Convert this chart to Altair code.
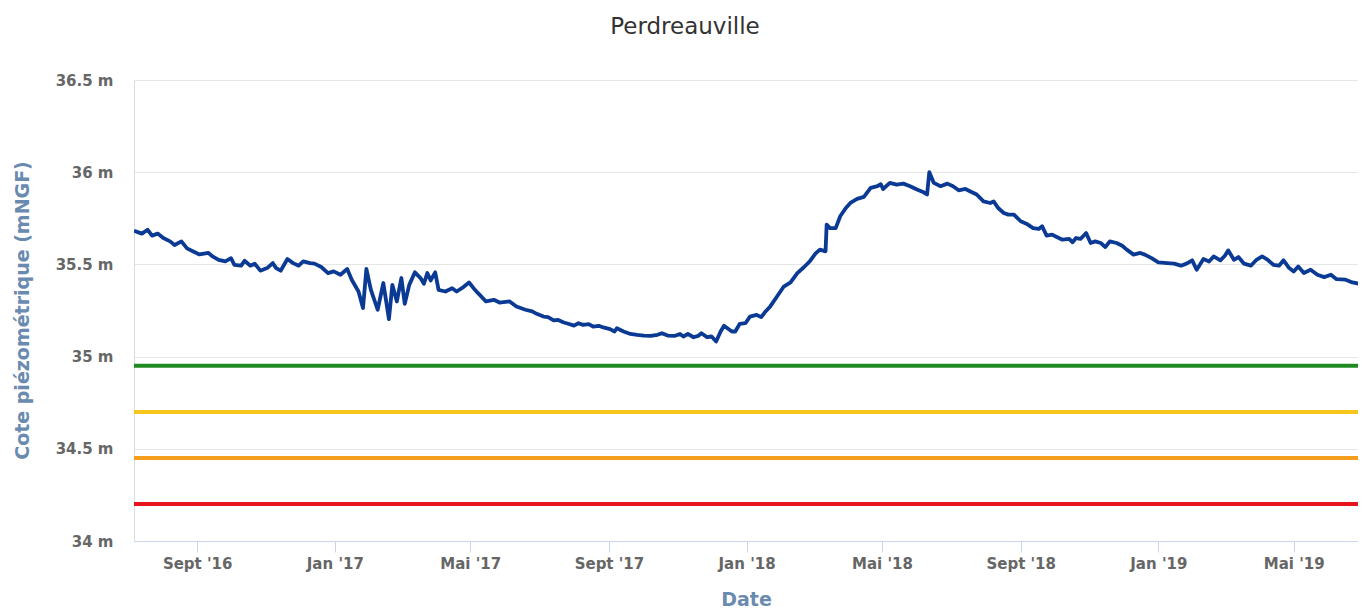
import json
import altair as alt
import pandas as pd

# ---- piezometric level series (m NGF) ----
dates = [
    "2016-07-07", "2016-07-14", "2016-07-19", "2016-07-23", "2016-07-28", "2016-08-02",
    "2016-08-08", "2016-08-12", "2016-08-18", "2016-08-23", "2016-08-29", "2016-09-03",
    "2016-09-11", "2016-09-15", "2016-09-20", "2016-09-26", "2016-10-01", "2016-10-04",
    "2016-10-10", "2016-10-13", "2016-10-18", "2016-10-22", "2016-10-27", "2016-11-02",
    "2016-11-07", "2016-11-10", "2016-11-14", "2016-11-20", "2016-11-25", "2016-11-30",
    "2016-12-04", "2016-12-10", "2016-12-14", "2016-12-20", "2016-12-26", "2016-12-31",
    "2017-01-06", "2017-01-12", "2017-01-16", "2017-01-22", "2017-01-26", "2017-01-29",
    "2017-02-02", "2017-02-08", "2017-02-13", "2017-02-18", "2017-02-21", "2017-02-25",
    "2017-03-01", "2017-03-04", "2017-03-08", "2017-03-13", "2017-03-18", "2017-03-21",
    "2017-03-24", "2017-03-27", "2017-03-31", "2017-04-03", "2017-04-09", "2017-04-15",
    "2017-04-19", "2017-04-25", "2017-04-30", "2017-05-04", "2017-05-08", "2017-05-15",
    "2017-05-22", "2017-05-27", "2017-06-05", "2017-06-11", "2017-06-19", "2017-06-25",
    "2017-06-29",
    "2017-07-05", "2017-07-09", "2017-07-14", "2017-07-18", "2017-07-23", "2017-07-27",
    "2017-08-01", "2017-08-05", "2017-08-09", "2017-08-14", "2017-08-18", "2017-08-23",
    "2017-08-27", "2017-09-02", "2017-09-06", "2017-09-08", "2017-09-14", "2017-09-20",
    "2017-09-26", "2017-10-02", "2017-10-08", "2017-10-14", "2017-10-18", "2017-10-23",
    "2017-10-29", "2017-11-03", "2017-11-06", "2017-11-10", "2017-11-15", "2017-11-19",
    "2017-11-22", "2017-11-27", "2017-12-01", "2017-12-05", "2017-12-09", "2017-12-12",
    "2017-12-15", "2017-12-19", "2017-12-22", "2017-12-26", "2017-12-31", "2018-01-04",
    "2018-01-10", "2018-01-14", "2018-01-17", "2018-01-22", "2018-01-28", "2018-02-03",
    "2018-02-09", "2018-02-15", "2018-02-21", "2018-02-26", "2018-03-03", "2018-03-07",
    "2018-03-12", "2018-03-13", "2018-03-16", "2018-03-21", "2018-03-25", "2018-03-30",
    "2018-04-03", "2018-04-09", "2018-04-15", "2018-04-21", "2018-04-27", "2018-04-30",
    "2018-05-02", "2018-05-08", "2018-05-14", "2018-05-20", "2018-05-26", "2018-06-01",
    "2018-06-07", "2018-06-10", "2018-06-12", "2018-06-16", "2018-06-22", "2018-06-28",
    "2018-07-03",
    "2018-07-08", "2018-07-14", "2018-07-18", "2018-07-24", "2018-07-30", "2018-08-05",
    "2018-08-08", "2018-08-12", "2018-08-17", "2018-08-21", "2018-08-26", "2018-09-01",
    "2018-09-06", "2018-09-12", "2018-09-17", "2018-09-20", "2018-09-24", "2018-09-29",
    "2018-10-03", "2018-10-08", "2018-10-14", "2018-10-17", "2018-10-20", "2018-10-24",
    "2018-10-29", "2018-11-02", "2018-11-06", "2018-11-11", "2018-11-15", "2018-11-19",
    "2018-11-25", "2018-11-30", "2018-12-04", "2018-12-10", "2018-12-16", "2018-12-20",
    "2018-12-26", "2019-01-01", "2019-01-09", "2019-01-15", "2019-01-21", "2019-01-26",
    "2019-01-31", "2019-02-04", "2019-02-10", "2019-02-15", "2019-02-19", "2019-02-25",
    "2019-03-01", "2019-03-04", "2019-03-09", "2019-03-13", "2019-03-18", "2019-03-24",
    "2019-03-29", "2019-04-03", "2019-04-07", "2019-04-13", "2019-04-18", "2019-04-22",
    "2019-04-27", "2019-05-01", "2019-05-05", "2019-05-10", "2019-05-16", "2019-05-22",
    "2019-05-28", "2019-06-03", "2019-06-08", "2019-06-16", "2019-06-22", "2019-06-28",
    "2019-07-02",
]
levels = [
    35.683, 35.667, 35.688, 35.656, 35.667, 35.643,
    35.625, 35.605, 35.625, 35.587, 35.569, 35.554,
    35.562, 35.542, 35.525, 35.516, 35.534, 35.498,
    35.493, 35.520, 35.493, 35.504, 35.466, 35.480,
    35.507, 35.480, 35.466, 35.529, 35.507, 35.493,
    35.516, 35.507, 35.504, 35.486, 35.453, 35.462,
    35.444, 35.475, 35.417, 35.353, 35.263, 35.475,
    35.362, 35.254, 35.399, 35.203, 35.389, 35.299,
    35.426, 35.286, 35.389, 35.457, 35.426, 35.395,
    35.453, 35.413, 35.457, 35.362, 35.353, 35.371,
    35.353, 35.377, 35.402, 35.371, 35.344, 35.299,
    35.308, 35.293, 35.299, 35.272, 35.254, 35.245,
    35.232,
    35.217, 35.214, 35.196, 35.199, 35.185, 35.178,
    35.168, 35.181, 35.172, 35.176, 35.163, 35.167,
    35.158, 35.149, 35.136, 35.154, 35.136, 35.123,
    35.118, 35.114, 35.112, 35.118, 35.127, 35.114,
    35.112, 35.123, 35.109, 35.123, 35.105, 35.112,
    35.127, 35.105, 35.109, 35.082, 35.136, 35.167,
    35.154, 35.136, 35.136, 35.178, 35.181, 35.217,
    35.226, 35.214, 35.239, 35.272, 35.326, 35.380,
    35.402, 35.453, 35.486, 35.516, 35.558, 35.580,
    35.571, 35.716, 35.697, 35.697, 35.761, 35.806,
    35.833, 35.855, 35.866, 35.915, 35.924, 35.935,
    35.909, 35.942, 35.933, 35.938, 35.924, 35.906,
    35.891, 35.879, 36.000, 35.942, 35.924, 35.938,
    35.924,
    35.902, 35.909, 35.897, 35.879, 35.842, 35.833,
    35.842, 35.806, 35.779, 35.770, 35.770, 35.734,
    35.721, 35.697, 35.692, 35.707, 35.656, 35.661,
    35.649, 35.634, 35.638, 35.620, 35.643, 35.638,
    35.670, 35.616, 35.625, 35.616, 35.594, 35.625,
    35.616, 35.601, 35.580, 35.553, 35.562, 35.553,
    35.534, 35.511, 35.507, 35.504, 35.493, 35.504,
    35.522, 35.471, 35.529, 35.516, 35.543, 35.522,
    35.547, 35.576, 35.525, 35.540, 35.504, 35.493,
    35.525, 35.543, 35.529, 35.498, 35.493, 35.522,
    35.480, 35.462, 35.489, 35.453, 35.471, 35.444,
    35.431, 35.444, 35.420, 35.417, 35.402, 35.395,
    35.388,
]

# ---- threshold levels ----
threshold_names = ["Seuil 1", "Seuil 2", "Seuil 3", "Seuil 4"]
threshold_values = [34.95, 34.70, 34.45, 34.20]
threshold_colors = ["#1f8a22", "#f6c61c", "#f59d1d", "#e5151b"]

# ---- axes ----
x_domain = ["2016-07-07", "2019-06-27"]
tick_dates = ["2016-09-01", "2017-01-01", "2017-05-01", "2017-09-01", "2018-01-01",
              "2018-05-01", "2018-09-01", "2019-01-01", "2019-05-01"]
tick_labels = ["Sept '16", "Jan '17", "Mai '17", "Sept '17", "Jan '18",
               "Mai '18", "Sept '18", "Jan '19", "Mai '19"]
y_ticks = [34, 34.5, 35, 35.5, 36, 36.5]


def dt(s):
    y, m, d = (int(p) for p in s.split("-"))
    return alt.DateTime(year=y, month=m, date=d, utc=True)


label_expr = " : ".join(
    f"utcFormat(datum.value, '%Y-%m-%d') == '{d}' ? {json.dumps(l)}"
    for d, l in zip(tick_dates, tick_labels)
) + " : ''"

series = pd.DataFrame({"date": dates, "level": levels})
thresholds = pd.DataFrame({"name": threshold_names, "value": threshold_values})

FONT = "DejaVu Sans"
LABEL_COLOR = "#666666"
TITLE_COLOR = "#6a8ab0"

x_enc = alt.X(
    "date:T",
    scale=alt.Scale(type="utc", domain=[dt(d) for d in x_domain], nice=False),
    axis=alt.Axis(
        values=[dt(d) for d in tick_dates],
        labelExpr=label_expr,
        grid=False,
        ticks=True,
        tickSize=11,
        tickColor="#ccd6eb",
        domainColor="#ccd6eb",
        labelFont=FONT,
        labelFontWeight="bold",
        labelFontSize=15,
        labelColor=LABEL_COLOR,
        labelPadding=4,
        labelFlush=False,
        labelOverlap=False,
        title="Date",
        titleFont=FONT,
        titleFontSize=19,
        titleFontWeight="bold",
        titleColor=TITLE_COLOR,
        titlePadding=19,
    ),
)

y_scale = alt.Scale(domain=[34, 36.5], nice=False, zero=False)
y_axis = alt.Axis(
    values=y_ticks,
    labelExpr="datum.value + ' m'",
    grid=True,
    gridColor="#e6e6e6",
    ticks=False,
    domain=True,
    domainColor="#d9dde3",
    labelFont=FONT,
    labelFontWeight="bold",
    labelFontSize=15,
    labelColor=LABEL_COLOR,
    labelPadding=21,
    title="Cote piézométrique (mNGF)",
    titleFont=FONT,
    titleFontSize=19,
    titleFontWeight="bold",
    titleColor=TITLE_COLOR,
    titleAngle=270,
    titleX=-112,
    titleY=230,
    titleAlign="center",
    titleBaseline="middle",
)

line = alt.Chart(series).mark_line(color="#0b3a94", strokeWidth=3.8, clip=True,
                                   strokeJoin="round").encode(
    x=x_enc,
    y=alt.Y("level:Q", scale=y_scale, axis=y_axis),
)

rules = alt.Chart(thresholds).mark_rule(strokeWidth=4).encode(
    y=alt.Y("value:Q", scale=y_scale),
    color=alt.Color("name:N", scale=alt.Scale(domain=threshold_names, range=threshold_colors),
                    legend=None),
)

chart = (
    alt.layer(rules, line)
    .properties(
        width=1224,
        height=461,
        autosize=alt.AutoSizeParams(type="none"),
        padding={"left": 126, "top": 72, "right": 0, "bottom": 70},
        title=alt.TitleParams("Perdreauville", font=FONT, fontSize=23, fontWeight="normal",
                              color="#333333", anchor="middle", offset=34, dx=-61),
    )
    .configure_view(strokeWidth=0)
)

chart.save("out.html", embed_options={"renderer": "svg", "actions": False})
